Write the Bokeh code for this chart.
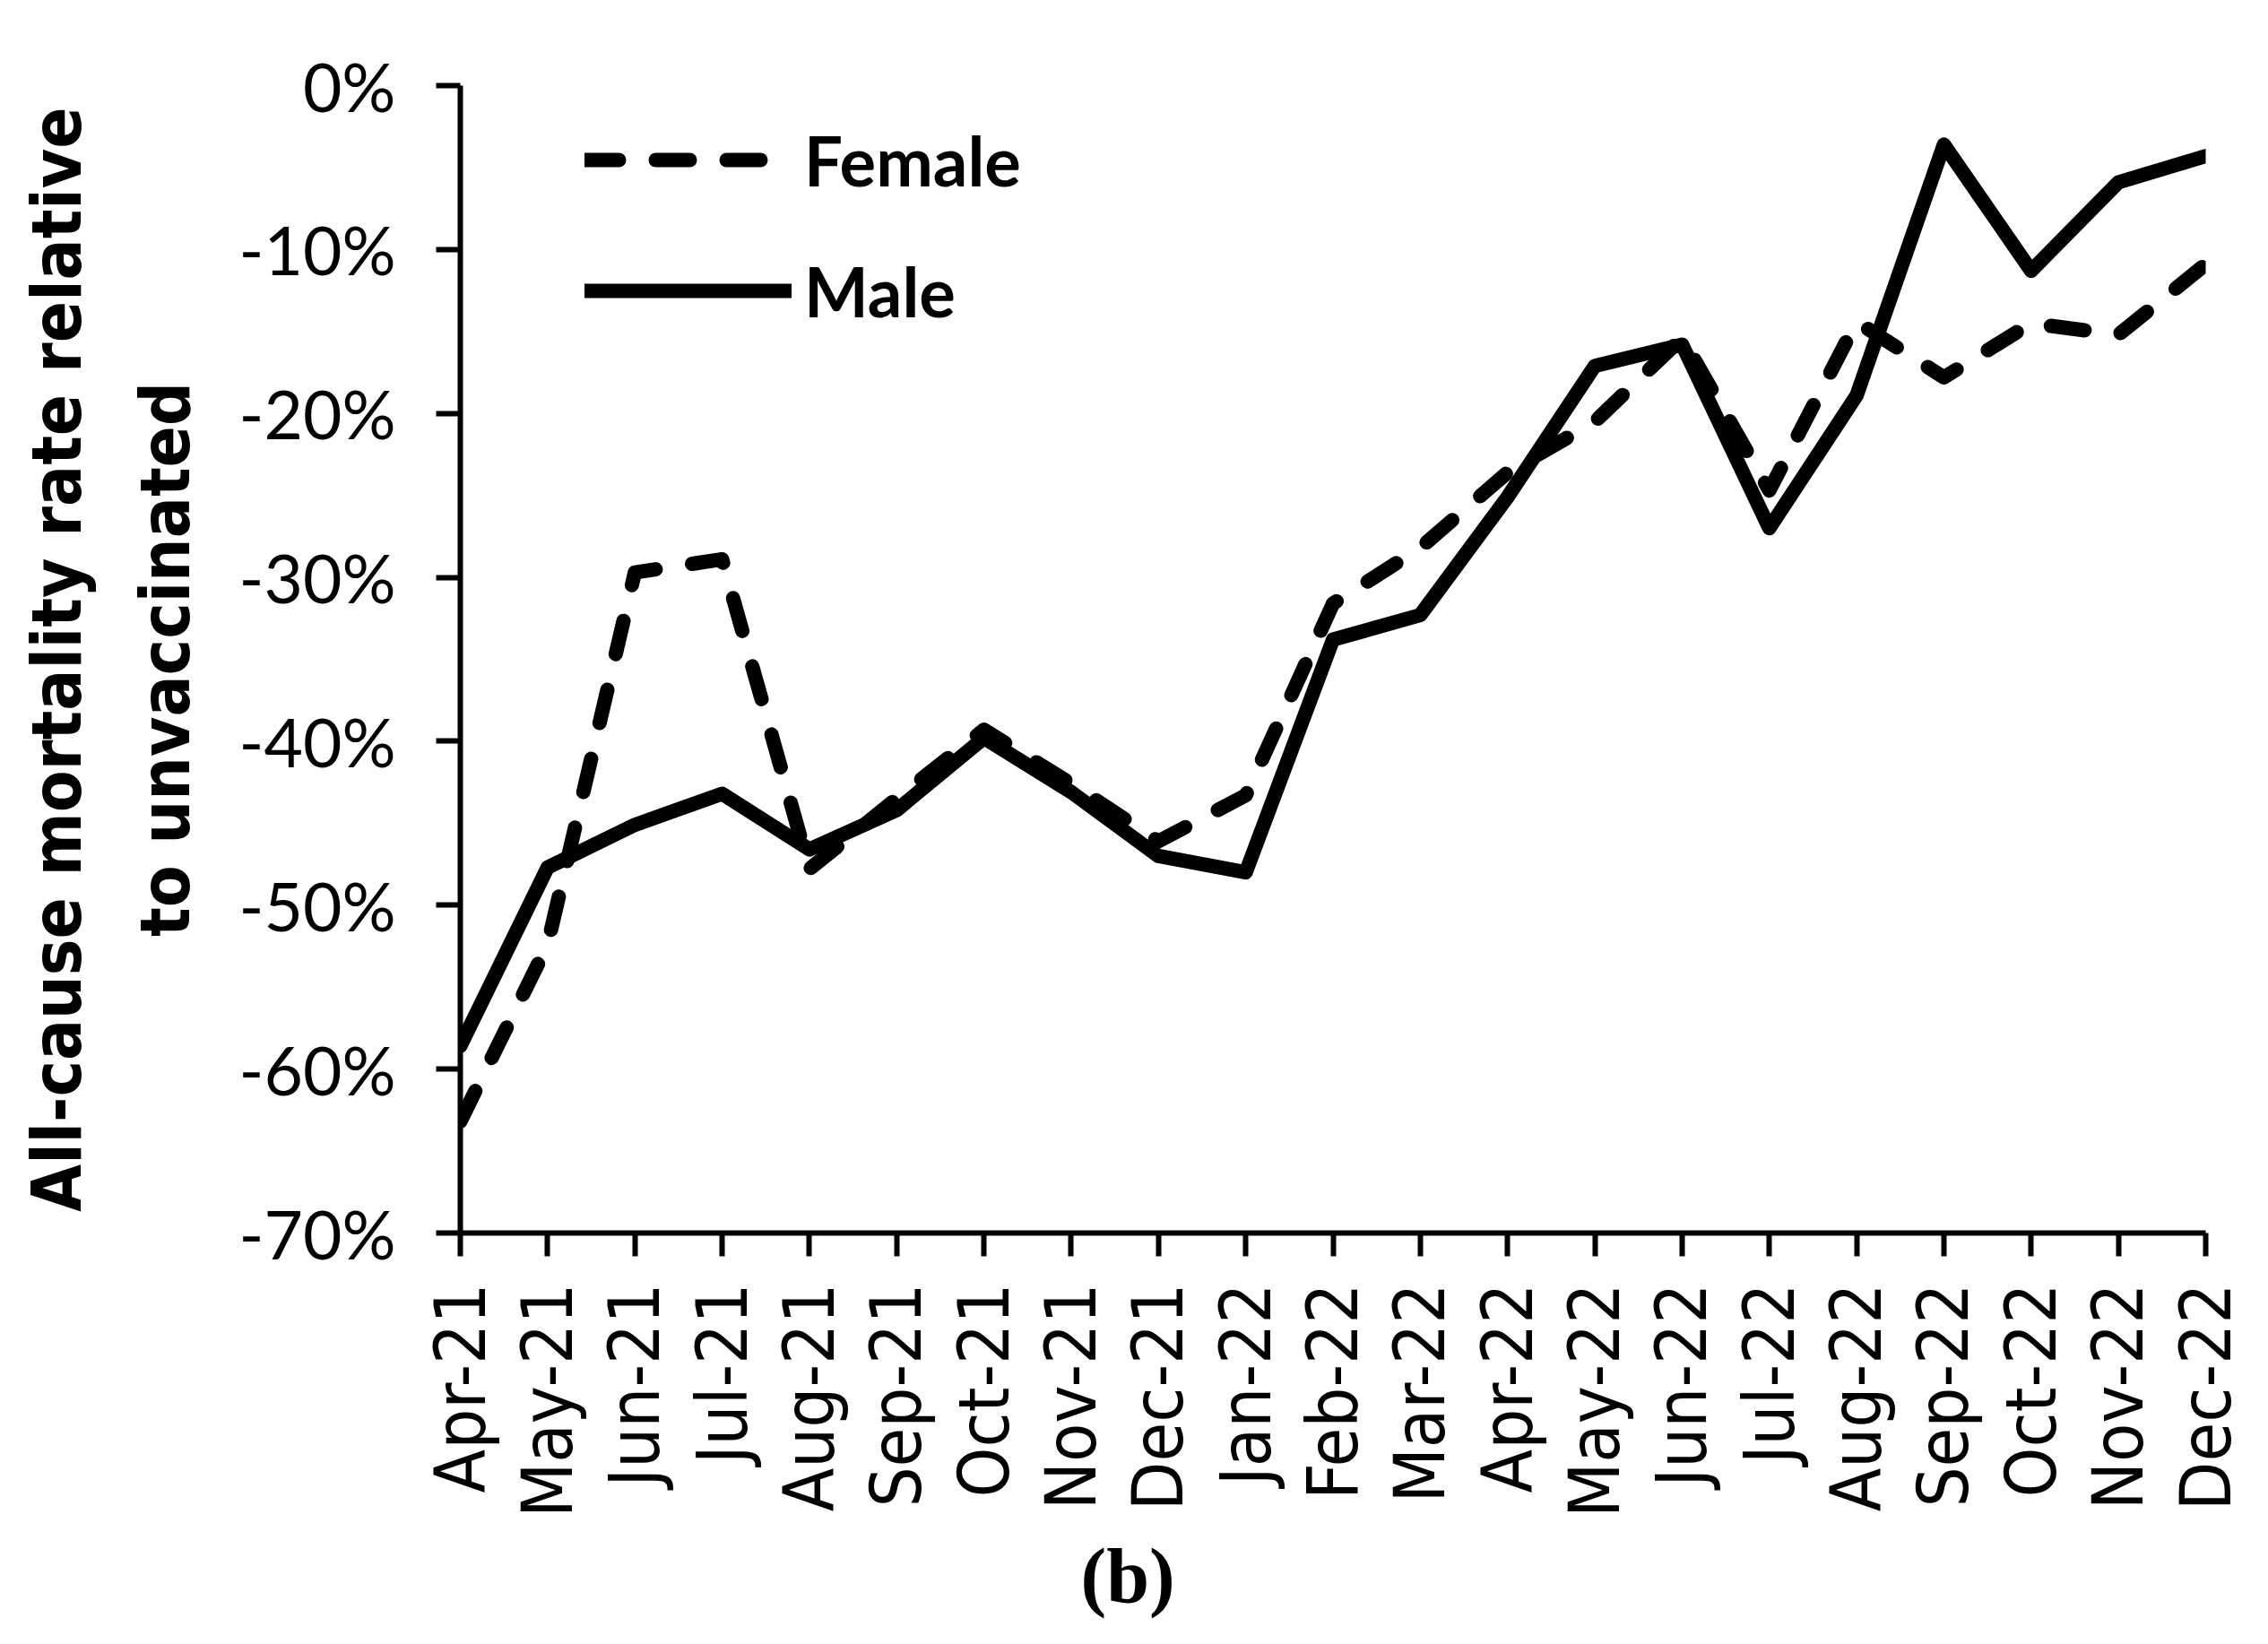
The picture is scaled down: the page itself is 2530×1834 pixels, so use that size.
import math
from bokeh.plotting import figure
from bokeh.models import (Range1d, FixedTicker, Legend, LegendItem, Title,
                          ColumnDataSource)
from bokeh.embed import file_html
from bokeh.resources import INLINE

# ---------------- data ----------------
months = ["Apr-21", "May-21", "Jun-21", "Jul-21", "Aug-21", "Sep-21", "Oct-21",
          "Nov-21", "Dec-21", "Jan-22", "Feb-22", "Mar-22", "Apr-22", "May-22",
          "Jun-22", "Jul-22", "Aug-22", "Sep-22", "Oct-22", "Nov-22", "Dec-22"]

female = [-63.2, -52.4, -29.7, -28.9, -47.8, -43.5, -39.3, -42.6, -46.1, -43.3,
          -31.6, -28.2, -23.6, -20.5, -15.4, -24.7, -14.4, -17.8, -14.5, -15.2,
          -10.9]

male = [-58.6, -47.7, -45.1, -43.2, -46.6, -44.2, -39.8, -43.1, -47.0, -48.0,
        -33.8, -32.3, -25.1, -17.1, -15.8, -27.0, -18.9, -3.6, -11.3, -5.9,
        -4.3]

y_ticks = [0, -10, -20, -30, -40, -50, -60, -70]
y_tick_labels = ["0%", "-10%", "-20%", "-30%", "-40%", "-50%", "-60%", "-70%"]

y_title_1 = "All-cause mortality rate relative"
y_title_2 = "to unvaccinated"
series_names = ["Female", "Male"]
caption = "(b)"

# ---------------- figure ----------------
xs = list(range(len(months)))
src = ColumnDataSource(dict(x=xs, female=female, male=male))

p = figure(width=2514, height=1818, output_backend="svg", toolbar_location=None,
           x_range=Range1d(0, len(months) - 1), y_range=Range1d(-70, 0),
           min_border_left=513, min_border_right=54,
           min_border_top=95, min_border_bottom=443)
p.outline_line_color = None
p.grid.visible = False
p.background_fill_color = "white"

COND = "DejaVu Sans Condensed"

# x axis
xa = p.xaxis[0]
xa.ticker = FixedTicker(ticks=xs)
xa.major_label_overrides = {i: m for i, m in enumerate(months)}
xa.major_label_orientation = math.pi / 2
xa.major_label_text_font = COND
xa.major_label_text_font_size = "79px"
xa.major_label_text_color = "black"
xa.major_label_standoff = 30
xa.axis_line_width = 6
xa.axis_line_color = "black"
xa.major_tick_line_width = 6
xa.major_tick_line_color = "black"
xa.major_tick_out = 26
xa.major_tick_in = 0
xa.minor_tick_line_color = None

# y axis
ya = p.yaxis[0]
ya.ticker = FixedTicker(ticks=y_ticks)
ya.major_label_overrides = {t: l for t, l in zip(y_ticks, y_tick_labels)}
ya.major_label_text_font = "Lato"
ya.major_label_text_font_size = "75px"
ya.major_label_text_color = "black"
ya.major_label_standoff = 45
ya.axis_line_width = 6
ya.axis_line_color = "black"
ya.major_tick_line_width = 6
ya.major_tick_line_color = "black"
ya.major_tick_out = 27
ya.major_tick_in = 0
ya.minor_tick_line_color = None

# ---------------- lines ----------------
female_r = p.line("x", "female", source=src, line_width=16, line_color="black",
                  line_dash="38 41", line_cap="round", line_join="round")
male_r = p.line("x", "male", source=src, line_width=16, line_color="black",
                line_cap="round", line_join="round")

legend = Legend(items=[LegendItem(label=series_names[0], renderers=[female_r]),
                       LegendItem(label=series_names[1], renderers=[male_r])],
                location=(139, 1001), orientation="vertical",
                glyph_width=231, glyph_height=100, label_height=100,
                spacing=46, label_standoff=14, padding=0, margin=0,
                border_line_color=None, background_fill_alpha=0,
                label_text_font="Lato", label_text_font_style="bold",
                label_text_font_size="76px", label_text_color="black")
p.add_layout(legend)

# ---------------- y axis title (two lines, as left titles) ----------------
p.add_layout(Title(text=y_title_2, align="center", offset=10, standoff=70,
                   text_font=COND, text_font_style="bold",
                   text_font_size="76px", text_color="black"), "left")
try:
    t1 = Title(text=y_title_1, align="center", offset=10, standoff=-11,
               text_font=COND, text_font_style="bold",
               text_font_size="76px", text_color="black")
except Exception:
    t1 = Title(text=y_title_1, align="center", offset=10, standoff=0,
               text_font=COND, text_font_style="bold",
               text_font_size="76px", text_color="black")
p.add_layout(t1, "left")

# ---------------- panel caption ----------------
p.add_layout(Title(text=caption, align="left", offset=692, standoff=23,
                   text_font="Liberation Serif", text_font_style="bold",
                   text_font_size="86px", text_color="black"), "below")

open("out.html", "w").write(file_html(p, INLINE))
